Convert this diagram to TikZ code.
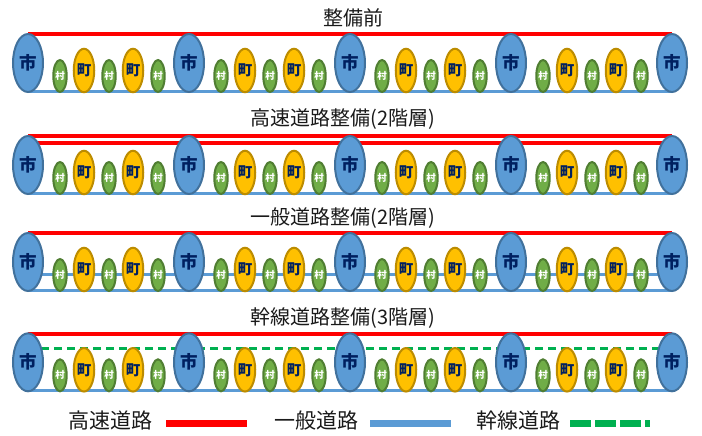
\documentclass[tikz,border=0pt]{standalone}
\usepackage{fontspec}
\newfontfamily\jp{Noto Sans CJK JP}
\usetikzlibrary{shapes.geometric,calc}
\pgfdeclarelayer{background}
\pgfsetlayers{background,main}
\definecolor{cityfill}{HTML}{5B9BD5}
\definecolor{cityline}{HTML}{41719C}
\definecolor{townfill}{HTML}{FFC000}
\definecolor{townline}{HTML}{BC8C00}
\definecolor{villfill}{HTML}{70AD47}
\definecolor{villline}{HTML}{507E32}
\definecolor{roadblue}{HTML}{5B9BD5}
\definecolor{roadred}{HTML}{FF0000}
\definecolor{roadgreen}{HTML}{00B050}
\definecolor{navy}{HTML}{002060}
\definecolor{titletext}{HTML}{1A1A1A}
\tikzset{
  city/.style={ellipse,draw=cityline,fill=cityfill,line width=2pt,minimum width=30pt,minimum height=58pt,inner sep=0pt,text=navy,font=\jp\bfseries\fontsize{17.5}{17.5}\selectfont},
  town/.style={ellipse,draw=townline,fill=townfill,line width=2pt,minimum width=16pt,minimum height=43.5pt,inner sep=0pt,text=navy,font=\jp\bfseries\fontsize{14.5}{14.5}\selectfont},
  vill/.style={ellipse,draw=villline,fill=villfill,line width=2pt,minimum width=13pt,minimum height=32pt,inner sep=0pt,text=white,font=\jp\bfseries\fontsize{9.5}{9.5}\selectfont},
  redroad/.style={draw=roadred,line width=4pt},
  blueroad/.style={draw=roadblue,line width=3pt},
  greenroad/.style={draw=roadgreen,line width=3pt,dash pattern=on 8pt off 5pt},
  ttl/.style={text=titletext,font=\jp\fontsize{20}{20}\selectfont,inner sep=0pt},
  lgd/.style={text=titletext,font=\jp\fontsize{21}{21}\selectfont,inner sep=0pt}
}
\begin{document}
\begin{tikzpicture}[x=1pt,y=-1pt]
\useasboundingbox (0,0) rectangle (702,436);
\foreach \r/\cy in {1/63,2/165,3/262,4/362.3}{
  \foreach \i in {0,...,4}{
    \node[city] (r\r c\i) at ({28+161*\i},\cy) {市};
  }
  \foreach \i in {0,...,3}{
    \pgfmathsetmacro\xo{28+161*\i}
    \node[vill] (r\r v\i a) at (\xo+32,\cy+13) {村};
    \node[town] (r\r t\i a) at (\xo+56,\cy+7.5) {町};
    \node[vill] (r\r v\i b) at (\xo+81,\cy+13) {村};
    \node[town] (r\r t\i b) at (\xo+105,\cy+7.5) {町};
    \node[vill] (r\r v\i c) at (\xo+130,\cy+13) {村};
  }
}
\begin{pgfonlayer}{background}
  % row 1
  \draw[redroad] ($(r1c0.center)+(0,-28.5)$) -- ($(r1c4.center)+(0,-28.5)$);
  \draw[blueroad] ($(r1c0.center)+(0,28.5)$) -- ($(r1c4.center)+(0,28.5)$);
  % row 2
  \draw[redroad] ($(r2c0.center)+(0,-29.5)$) -- ($(r2c4.center)+(0,-29.5)$);
  \draw[redroad] ($(r2c0.center)+(0,-22.5)$) -- ($(r2c4.center)+(0,-22.5)$);
  \draw[blueroad] ($(r2c0.center)+(0,28.5)$) -- ($(r2c4.center)+(0,28.5)$);
  % row 3
  \draw[redroad] ($(r3c0.center)+(0,-29.5)$) -- ($(r3c4.center)+(0,-29.5)$);
  \draw[blueroad] ($(r3c0.center)+(0,12.8)$) -- ($(r3c4.center)+(0,12.8)$);
  \draw[blueroad] ($(r3c0.center)+(0,28.8)$) -- ($(r3c4.center)+(0,28.8)$);
  % row 4
  \draw[redroad] ($(r4c0.center)+(0,-28.5)$) -- ($(r4c4.center)+(0,-28.5)$);
  \draw[greenroad] ($(r4c0.center)+(0,-13.5)$) -- ($(r4c4.center)+(0,-13.5)$);
  \draw[blueroad] ($(r4c0.center)+(0,28.2)$) -- ($(r4c4.center)+(0,28.2)$);
\end{pgfonlayer}
% titles
\node[ttl] (t1) at (353,18) {整備前};
\node[ttl] (t2) at (343,119) {高速道路整備(2階層)};
\node[ttl] (t3) at (343,218) {一般道路整備(2階層)};
\node[ttl] (t4) at (343,318) {幹線道路整備(3階層)};
% legend
\node[lgd] (l1) at (110,421) {高速道路};
\coordinate (l1a) at (166,423.5);
\coordinate (l1b) at (247,423.5);
\draw[draw=roadred,line width=7pt] (l1a) -- (l1b);
\node[lgd] (l2) at (316,421) {一般道路};
\coordinate (l2a) at (370,423.5);
\coordinate (l2b) at (451,423.5);
\draw[draw=roadblue,line width=6.5pt] (l2a) -- (l2b);
\node[lgd] (l3) at (518,421) {幹線道路};
\coordinate (l3a) at (570,423.5);
\coordinate (l3b) at (650,423.5);
\draw[draw=roadgreen,line width=7pt,dash pattern=on 21pt off 4pt] (l3a) -- (l3b);
\end{tikzpicture}
\end{document}
